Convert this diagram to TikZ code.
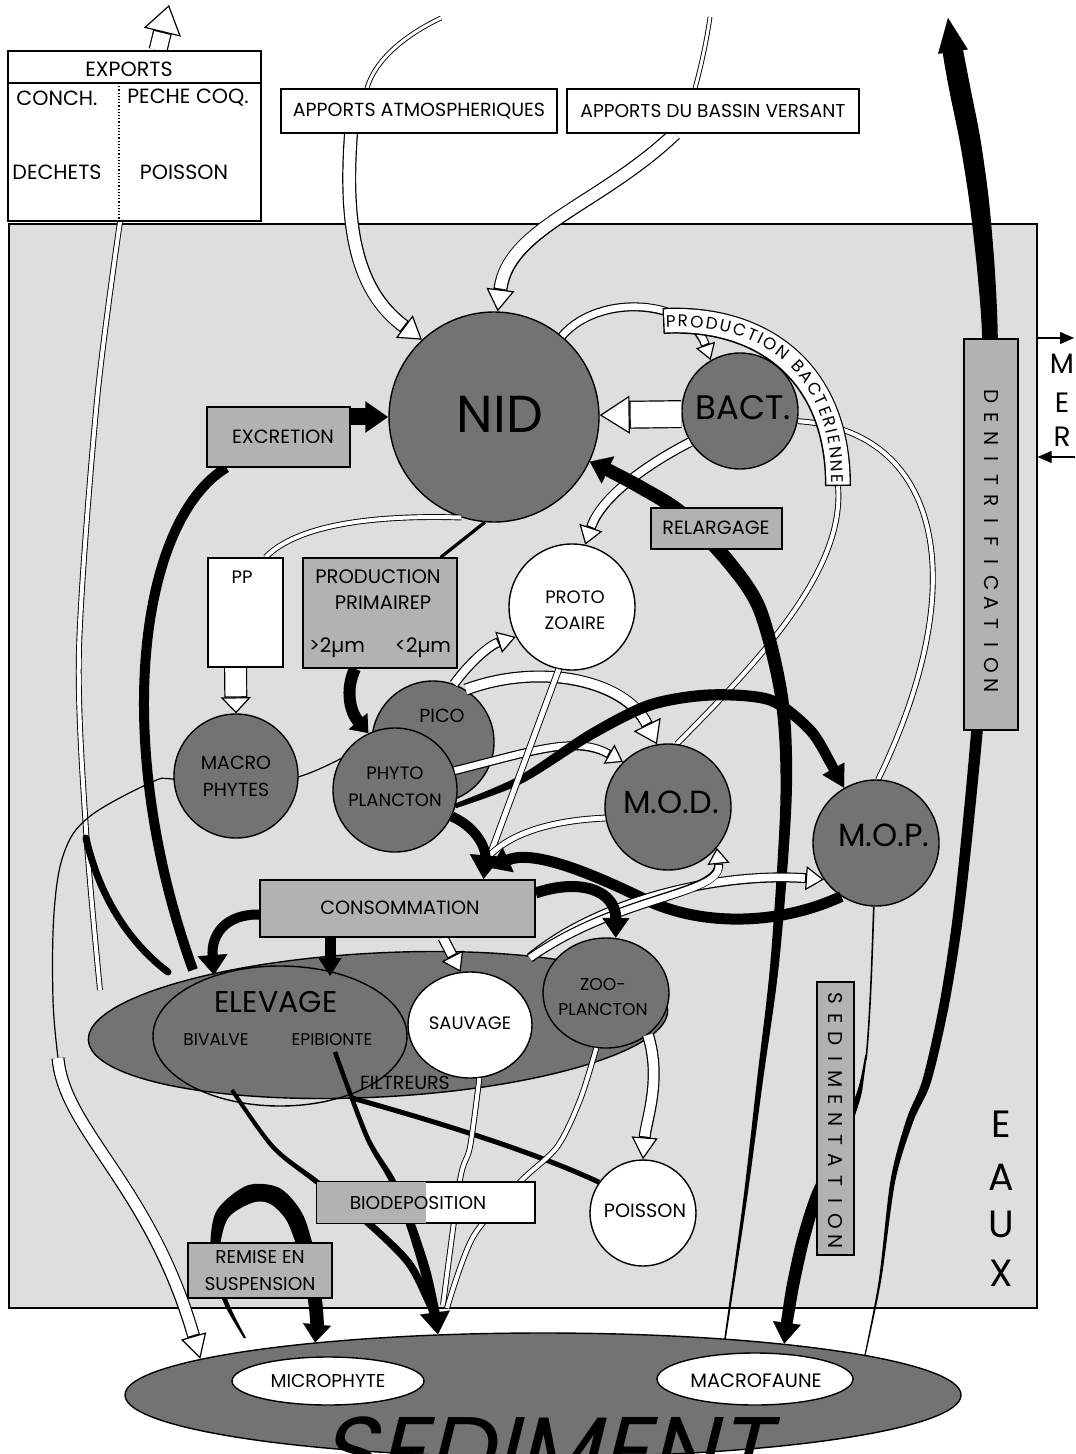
\documentclass[tikz,border=0pt]{standalone}
\usepackage{fontspec}
\setmainfont{Poppins}
\newfontfamily\sedfont[FakeSlant=0.25]{Poppins}
\usetikzlibrary{arrows.meta,shapes.geometric,decorations.text,calc}
\pgfdeclarelayer{back}
\pgfdeclarelayer{arr}
\pgfdeclarelayer{front}
\pgfsetlayers{back,main,arr,front}
\newcommand\fs[1]{\fontsize{#1}{#1}\selectfont}
\newcommand\bandfont{\fontsize{8.4}{8.4}\selectfont}
% hollow arrow: outer width, inner width, head length, head width, white shorten, path
\newcommand\HA[6]{%
  \draw[line width=#1,-{Triangle[length=#3,width=#4,fill=white,line width=0.6pt]}] #6;
  \draw[line width=#2,white,shorten >=#5] #6;}
% tapered stroke: list of x/y/halfwidth(pt)
\newcommand\taperfill[1]{%
  \foreach \x/\y/\h [count=\i] in {#1} {%
    \coordinate (tq\i) at (\x,\y);
    \expandafter\xdef\csname tph\i\endcsname{\h}%
    \xdef\tpN{\i}}%
  \gdef\tpL{}\gdef\tpR{}%
  \foreach \i in {1,...,\tpN} {%
    \pgfmathtruncatemacro\tppv{max(1,\i-1)}%
    \pgfmathtruncatemacro\tpnx{min(\tpN,\i+1)}%
    \edef\tphh{\csname tph\i\endcsname}%
    \coordinate (tl\i) at ($(tq\i)!\tphh pt!90:($(tq\i)+(tq\tpnx)-(tq\tppv)$)$);
    \coordinate (tr\i) at ($(tq\i)!\tphh pt!-90:($(tq\i)+(tq\tpnx)-(tq\tppv)$)$);
    \xdef\tpL{\tpL (tl\i)}%
    \xdef\tpR{(tr\i) \tpR}}%
  \edef\tptemp{\noexpand\fill plot[smooth] coordinates {\tpL} -- plot[smooth] coordinates {\tpR} -- cycle;}%
  \tptemp}
\begin{document}
\begin{tikzpicture}[x=0.5pt,y=-0.5pt,
  dark/.style={fill=black!55,draw=black,line width=0.7pt,inner sep=0pt},
  light/.style={fill=white,draw=black,line width=0.7pt,inner sep=0pt},
  gbox/.style={rectangle,fill=black!30,draw=black,line width=0.7pt,inner sep=0pt},
  wbox/.style={rectangle,fill=white,draw=black,line width=0.7pt,inner sep=0pt},
  lbl/.style={inner sep=0pt},
  dl/.style={double=white,double distance=#1,line width=0.45pt},
  thinl/.style={line width=0.6pt},
  headonly/.style={line width=0.1pt},
  vlet/.style={inner sep=0pt,rotate=-90,font=\fs{10}}]
\useasboundingbox (0,0) rectangle (1075,1454);

% ---------------- water ----------------
\begin{pgfonlayer}{back}
\node[rectangle,fill=black!13,draw=black,line width=0.6pt,inner sep=0pt,minimum width=514pt,minimum height=542pt] (water) at (523,766) {};
\end{pgfonlayer}

% ---------------- circles / ellipses ----------------
\node[dark,circle,minimum size=105pt] (nid) at (494,417) {};
\node[dark,circle,minimum size=58pt] (bact) at (740,411) {};
\node[light,circle,minimum size=63pt] (proto) at (572,607) {};
\node[dark,circle,minimum size=61pt] (pico) at (433,742) {};
\node[dark,circle,minimum size=62pt] (phyto) at (395,790) {};
\node[dark,circle,minimum size=62pt] (macro) at (236,776) {};
\node[dark,circle,minimum size=63pt] (mod) at (668,807) {};
\node[dark,circle,minimum size=63pt] (mop) at (876,843) {};
\node[dark,ellipse,minimum width=290pt,minimum height=72pt,rotate=3] (filt) at (378,1025) {};
\node[ellipse,draw=black,line width=0.7pt,inner sep=0pt,minimum width=127pt,minimum height=70pt] (elev) at (280,1036) {};
\node[light,ellipse,minimum width=62pt,minimum height=53pt] (sauv) at (470,1025) {};
\node[dark,ellipse,minimum width=63pt,minimum height=55pt] (zoo) at (606,993) {};
\node[light,circle,minimum size=53pt] (poisson) at (643,1213) {};
\node[dark,ellipse,minimum width=418pt,minimum height=62pt] (sediment) at (543,1395) {};
\node[light,ellipse,minimum width=96pt,minimum height=24pt] (micro) at (328,1381) {};
\node[light,ellipse,minimum width=98pt,minimum height=26pt] (macrof) at (755,1379) {};

\node[lbl,font=\fs{26}] (nidT) at (500,414) {NID};
\node[lbl,font=\fs{17}] (bactT) at (743,408) {BACT.};
\node[lbl,font=\fontsize{9}{13}\selectfont,align=center] (protoT) at (575,610) {PROTO\\ZOAIRE};
\node[lbl,font=\fs{9.5}] (picoT) at (442,716) {PICO};
\node[lbl,font=\fontsize{9}{13.5}\selectfont,align=center] (phytoT) at (395,787) {PHYTO\\PLANCTON};
\node[lbl,font=\fontsize{9.5}{13.5}\selectfont,align=center] (macroT) at (236,776) {MACRO\\PHYTES};
\node[lbl,font=\fs{16}] (modT) at (671,802) {M.O.D.};
\node[lbl,font=\fs{16}] (mopT) at (884,835) {M.O.P.};
\node[lbl,font=\fs{15}] (elevT) at (276,1002) {ELEVAGE};
\node[lbl,font=\fs{8.5}] (bivT) at (216,1040) {BIVALVE};
\node[lbl,font=\fs{8.5}] (epiT) at (332,1040) {EPIBIONTE};
\node[lbl,font=\fs{9.5}] (filtT) at (405,1083) {FILTREURS};
\node[lbl,font=\fs{9}] (sauvT) at (470,1023) {SAUVAGE};
\node[lbl,font=\fontsize{8.6}{12.5}\selectfont,align=center] (zooT) at (603,997) {ZOO-\\PLANCTON};
\node[lbl,font=\fs{9.6}] (poisT) at (645,1211) {POISSON};
\node[lbl,font=\fs{9.3}] (microT) at (328,1381) {MICROPHYTE};
\node[lbl,font=\fs{9.7}] (macrofT) at (756,1381) {MACROFAUNE};
\node[lbl,font=\sedfont\fs{48},text=black,anchor=base] (sedT) at (543,1484) {SEDIMENT};

% EAUX and MER
\node[lbl,font=\fs{19}] (eauE) at (1001,1124) {E};
\node[lbl,font=\fs{19}] (eauA) at (1001,1177) {A};
\node[lbl,font=\fs{19}] (eauU) at (1001,1224) {U};
\node[lbl,font=\fs{19}] (eauX) at (1001,1273) {X};
\node[lbl,font=\fs{14}] (merM) at (1062,364) {M};
\node[lbl,font=\fs{14}] (merE) at (1062,403) {E};
\node[lbl,font=\fs{14}] (merR) at (1062,437) {R};

% ---------------- boxes (front) ----------------
\begin{pgfonlayer}{front}
\node[wbox,minimum width=126.5pt,minimum height=85pt] (exports) at (134.5,136) {};
\coordinate (expHdr) at (8,83);
\draw[thinl] (expHdr) -- (exports.east |- expHdr);
\coordinate (expDiv) at (119,83);
\draw[thinl,densely dotted] (expDiv) -- (expDiv |- exports.south);
\node[lbl,font=\fs{10.3}] (expT) at (129,69) {EXPORTS};
\node[lbl,font=\fs{10.3}] (conchT) at (57,98) {CONCH.};
\node[lbl,font=\fs{10.3}] (pecheT) at (188,98) {PECHE COQ.};
\node[lbl,font=\fs{10.3}] (dechT) at (57,172) {DECHETS};
\node[lbl,font=\fs{10.3}] (poisXT) at (184,172) {POISSON};

\node[wbox,minimum width=138pt,minimum height=22pt] (apatm) at (419,111) {};
\node[lbl,font=\fs{9.5}] (apatmT) at (419,111) {APPORTS ATMOSPHERIQUES};
\node[wbox,minimum width=146pt,minimum height=22pt] (apbv) at (713,111) {};
\node[lbl,font=\fs{9.3}] (apbvT) at (713,111) {APPORTS DU BASSIN VERSANT};

\node[gbox,minimum width=71.5pt,minimum height=30pt] (excretion) at (278.5,437) {};
\node[lbl,font=\fs{9.6}] (excT) at (283,437) {EXCRETION};
\node[wbox,minimum width=37.5pt,minimum height=54.5pt] (pp) at (245.5,612.5) {};
\node[lbl,font=\fs{9}] (ppT) at (242,577) {PP};
\node[gbox,minimum width=77pt,minimum height=55pt] (prodprim) at (380,613) {};
\node[lbl,font=\fs{9.8}] (pp1T) at (378,577) {PRODUCTION};
\node[lbl,font=\fs{9.8}] (pp2T) at (383,603) {PRIMAIREP};
\node[lbl,font=\fs{10}] (pp3T) at (337,648) {>2µm};
\node[lbl,font=\fs{10}] (pp4T) at (423,648) {<2µm};
\node[gbox,minimum width=65.5pt,minimum height=20.5pt] (relargage) at (716.5,528.5) {};
\node[lbl,font=\fs{9.6}] (relT) at (716,528) {RELARGAGE};
\node[gbox,minimum width=137.5pt,minimum height=28.5pt] (consommation) at (397.5,908.5) {};
\node[lbl,font=\fs{9.6}] (consT) at (400,908) {CONSOMMATION};
\node[wbox,minimum width=109pt,minimum height=20.5pt] (biodep) at (426,1202.5) {};
\fill[black!30] (biodep.north west) rectangle (biodep.south);
\draw[line width=0.7pt] (biodep.north west) rectangle (biodep.south east);
\node[lbl,font=\fs{9.3}] (biodT) at (418,1203) {BIODEPOSITION};
\node[gbox,minimum width=72pt,minimum height=27.5pt] (remise) at (260,1270.5) {};
\node[lbl,font=\fontsize{9.3}{13.5}\selectfont,align=center] (remT) at (260,1270) {REMISE EN\\SUSPENSION};
\node[gbox,minimum width=18.5pt,minimum height=136.5pt] (sedim) at (835.5,1118.5) {};
\foreach \l [count=\i] in {S,E,D,I,M,E,N,T,A,T,I,O,N}
  \node[vlet] (sedL\i) at (835.5,{998+(\i-1)*20.3}) {\l};
\node[gbox,minimum width=27pt,minimum height=195.5pt] (denit) at (991,534.5) {};
\foreach \l [count=\i] in {D,E,N,I,T,R,I,F,I,C,A,T,I,O,N}
  \node[vlet] (denL\i) at (991,{397+(\i-1)*20.64}) {\l};
% production bacterienne band
\coordinate (bandStart) at (663,321);
\coordinate (bandEnd) at (838,486);
\coordinate (bandTxtS) at (666,327.4);
\coordinate (bandTxtE) at (831.6,483);
\draw[line width=13pt,line cap=butt] (bandStart) .. controls (760,316) and (838,370) .. (bandEnd);
\draw[line width=11.6pt,white,line cap=butt,shorten <=0.7pt,shorten >=0.7pt] (bandStart) .. controls (760,316) and (838,370) .. (bandEnd);
\path[decorate,decoration={text along path,text={|\bandfont|PRODUCTION BACTERIENNE},text align={fit to path}}] (bandTxtS) .. controls (760,322.4) and (831.6,370) .. (bandTxtE);
\end{pgfonlayer}

% ---------------- background connectors ----------------
\begin{pgfonlayer}{back}
\coordinate (filtL) at (100,990);
\draw[dl=2pt] plot[smooth] coordinates {([xshift=-7.25pt]exports.south) (97,400) (79,650) (86,830) (filtL)};
\coordinate (loopEnd) at (58,1058);
\draw[thinl] plot[smooth,tension=0.6] coordinates {(phyto.150) (298,777) (236,788) (173,779) (150,783) (89,817) (64,853) (54,913) (53,1000) (loopEnd)};
\draw[dl=2pt] (bact.-10) .. controls (940,430) and (975,580) .. (mop.88);
\draw[dl=2pt] (bandEnd) .. controls (845,570) and (760,660) .. (mod.82);
\end{pgfonlayer}

% ---------------- connectors ----------------
\begin{pgfonlayer}{arr}
% exports up
\coordinate (expTip) at (169,5);
\HA{9.5pt}{8.3pt}{14pt}{19pt}{14.4pt}{([xshift=11.75pt]exports.north) -- (expTip)}
% apports
\coordinate (atmTop) at (441,18);
\draw[dl=1.5pt] (atmTop) .. controls (405,35) and (375,60) .. ([xshift=-26pt]apatm.north);
\HA{7pt}{5.8pt}{11pt}{14pt}{11.5pt}{([xshift=-34pt]apatm.south) .. controls (343,240) and (362,295) .. (nid.133)}
\coordinate (bvTop) at (710,17);
\draw[dl=1.5pt] (bvTop) .. controls (706,45) and (700,70) .. ([xshift=-9pt]apbv.north);
\HA{7pt}{5.8pt}{11pt}{14pt}{11.5pt}{([xshift=-19pt]apbv.south) .. controls (600,205) and (508,228) .. (nid.88)}
% bact <-> nid
\HA{14pt}{12.8pt}{15pt}{19pt}{15.5pt}{(bact.183) -- (nid.1)}
\HA{4.5pt}{3.3pt}{8pt}{10pt}{8.5pt}{(nid.50) .. controls (600,292) and (690,300) .. (bact.120)}
\HA{5pt}{3.8pt}{9pt}{12pt}{9.5pt}{(bact.212) .. controls (640,468) and (600,500) .. (proto.78)}
% relargage (tapered)
\taperfill{725/1339/0.4, 745/1200/0.9, 760/1080/1.5, 775/960/2.2, 786/800/2.8, 782/700/3.2, 760/610/3.4, 727/560/3.5, 680/512/3.5, 640/487/3.4, 612/472/3.3, 604/468/3.2}
\coordinate (relBase) at (610,471);
\draw[headonly,-{Triangle[length=10pt,width=15pt]}] (relBase) -- (nid.-25);
% excretion
\draw[line width=8.5pt,-{Triangle[length=11.5pt,width=15pt]}] (excretion.east |- nid.west) -- (nid.west);
\coordinate (filtT2) at (193,970);
\draw[line width=5pt] ([xshift=10pt]excretion.south west) .. controls (140,520) and (110,740) .. (filtT2);
% exports branch to elevage
\coordinate (expBr) at (86,838);
\coordinate (filtT1) at (168,972);
\draw[line width=3.5pt,line cap=round] (expBr) .. controls (100,900) and (132,945) .. (filtT1);
% macrophytes to sediment
\HA{6.5pt}{5.3pt}{12pt}{13pt}{12.5pt}{(loopEnd) .. controls (64,1130) and (150,1185) .. (sediment.174)}
% pp, nid, prod primaire
\HA{11.5pt}{10.3pt}{8pt}{15pt}{8.5pt}{([xshift=-5pt]pp.south) -- (macro.north)}
\draw[dl=2pt] (nid.252) .. controls (385,515) and (300,522) .. ([xshift=10pt]pp.north);
\draw[line width=1.6pt] (nid.265) -- ([xshift=-8.5pt]prodprim.north east);
\draw[line width=6pt,-{Triangle[length=8pt,width=12pt]}] ([xshift=-12.5pt]prodprim.south) .. controls (345,690) and (350,712) .. (phyto.115);
% pico, phyto
\HA{5pt}{3.8pt}{9pt}{11pt}{9.5pt}{(pico.70) .. controls (470,662) and (490,645) .. (proto.208)}
\HA{6pt}{4.8pt}{11pt}{15pt}{11.5pt}{(pico.58) .. controls (540,662) and (625,680) .. (mod.100)}
\HA{4.5pt}{3.3pt}{8pt}{11pt}{8.5pt}{(phyto.18) .. controls (530,752) and (575,735) .. (mod.135)}
\taperfill{455/806/1.2, 520/780/2.0, 590/735/2.6, 650/705/2.8, 710/695/2.8, 770/700/2.8, 810/730/2.7, 830/762/2.6, 836/774/2.5}
\coordinate (pmBase) at (833,768);
\draw[headonly,-{Triangle[length=11pt,width=12.5pt]}] (pmBase) -- (mop.120);
% into consommation
\coordinate (consHead) at (490,855);
\draw[dl=2.5pt] (proto.258) -- (consHead);
\draw[dl=2.5pt] (mod.190) .. controls (560,820) and (515,830) .. (consHead);
\draw[line width=5pt,-{Triangle[length=12pt,width=15pt]}] (phyto.-25) .. controls (478,828) and (486,850) .. ([xshift=43pt]consommation.north);
\coordinate (consHead2) at (490,868);
\draw[line width=5.5pt,-{Triangle[length=10pt,width=13pt]}] (mop.237) .. controls (780,925) and (700,928) .. (640,897) .. controls (580,868) and (530,850) .. (consHead2);
% filtreurs to mod / mop
\coordinate (filTop) at (530,958);
\HA{5pt}{3.8pt}{9pt}{12pt}{9.5pt}{(filTop) .. controls (600,900) and (720,872) .. (mop.215)}
\HA{4.5pt}{3.3pt}{8pt}{11pt}{8.5pt}{(filTop) .. controls (620,895) and (722,895) .. (mod.-40)}
% consommation outputs
\coordinate (elvA) at (214,975);
\draw[line width=5pt,-{Triangle[length=10pt,width=14.5pt]}] ([yshift=-3pt]consommation.west) .. controls (225,914) and (211,935) .. (elvA);
\coordinate (elvB) at (330,976);
\draw[line width=5.5pt,-{Triangle[length=9pt,width=11pt]}] ([xshift=-33.75pt]consommation.south) -- (elvB);
\HA{5.5pt}{4.3pt}{9pt}{12pt}{9.5pt}{([xshift=22.75pt]consommation.south) -- (sauv.100)}
\draw[line width=5.5pt,-{Triangle[length=10pt,width=13pt]}] ([yshift=7.75pt]consommation.east) .. controls (580,878) and (616,890) .. (zoo.80);
% zoo to poisson
\HA{6pt}{4.8pt}{11pt}{13pt}{11.5pt}{(zoo.-45) .. controls (662,1080) and (646,1120) .. (poisson.north)}
% filtreurs to poisson
\coordinate (filtB) at (352,1098);
\draw[line width=2.5pt] (filtB) .. controls (430,1120) and (530,1150) .. (poisson.145);
% biodeposition
\draw[dl=2pt] plot[smooth] coordinates {(sauv.-80) (470,1147) (460,1180) (443,1305)};
\draw[dl=2pt] plot[smooth] coordinates {(zoo.-100) (580,1100) (557,1147) (520,1182) (473,1237) (447,1308)};
\taperfill{232/1090/1.0, 273/1147/1.1, 317/1182/1.3, 367/1222/1.7, 408/1262/1.9, 428/1300/1.9, 435/1318/1.8}
\taperfill{335/1052/1.1, 367/1137/1.2, 392/1180/1.6, 410/1223/2.2, 425/1270/2.5, 433/1305/2.5, 436/1318/2.4}
\coordinate (epiBase) at (435,1313);
\draw[headonly,-{Triangle[length=11pt,width=15pt]}] (epiBase) -- (sediment.150);
% remise en suspension loop
\taperfill{245/1338/0.5, 225/1300/1.2, 215/1255/2.2, 222/1215/3.4, 250/1194/4.5, 275/1196/4.6, 295/1218/4.3, 308/1258/3.8, 315/1300/3.5, 317/1322/3.4, 317/1329/3.3}
\coordinate (remBase) at (317,1324);
\draw[headonly,-{Triangle[length=9pt,width=14pt]}] (remBase) -- (sediment.167);
% sedimentation
\draw[line width=0.8pt] (mop.268) .. controls (872,960) and (870,1020) .. (866,1060);
\taperfill{866/1055/0.4, 862/1080/0.8, 857/1100/1.4, 838/1150/2.3, 817/1195/2.9, 803/1240/3.1, 793/1285/3.1, 788/1315/3.0, 786/1327/2.9}
\coordinate (sedBase) at (787,1322);
\draw[headonly,-{Triangle[length=10.5pt,width=14pt]}] (sedBase) -- (sediment.12);
% denitrification
\coordinate (denTip) at (948,18);
\taperfill{865/1355/0.3, 880/1280/0.6, 893/1180/1.2, 910/1120/1.8, 927/1080/2.2, 945/1000/2.4, 960/900/2.6, 977/730/2.9, 985/600/3.2, 990/450/3.6, 990/339/3.9, 986/270/4.4, 979/200/4.9, 970/140/5.2, 960/90/5.3, 954/58/5.2, 952/46/5.0}
\coordinate (denBase) at (953,52);
\draw[headonly,-{Triangle[length=17pt,width=15pt]}] (denBase) -- (denTip);
% mer
\coordinate (merA) at (1074,338);
\coordinate (merB) at (1075,457);
\draw[thinl,-{Triangle[length=7pt,width=6pt]}] (water.east |- merA) -- (merA);
\draw[thinl,-{Triangle[length=7pt,width=6pt]}] (merB) -- (water.east |- merB);
\end{pgfonlayer}
\end{tikzpicture}
\end{document}
